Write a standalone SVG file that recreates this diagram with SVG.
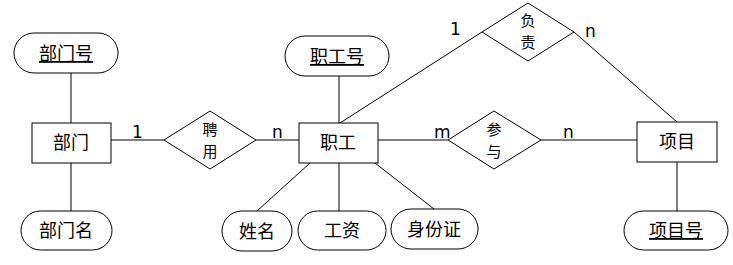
<svg xmlns="http://www.w3.org/2000/svg" width="733" height="265" viewBox="0 0 733 265">
<style>
.s{fill:#fff;stroke:#000;stroke-width:1}
.t{font-family:"Noto Sans CJK SC","Noto Sans",sans-serif;font-size:18px;text-anchor:middle;fill:#000}
.d{font-family:"Noto Sans CJK SC","Noto Sans",sans-serif;font-size:15px;text-anchor:middle;fill:#000}
.u{text-decoration:underline}
.c{font-family:"DejaVu Sans",sans-serif;font-size:17px;fill:#000}
.l{stroke:#000;stroke-width:1;fill:none}
</style>
<rect width="733" height="265" fill="#fff"/>
<g id="connectors">
<line class="l" x1="71" y1="73" x2="71" y2="123"/>
<line class="l" x1="71" y1="163" x2="71" y2="211"/>
<line class="l" x1="111" y1="140" x2="164" y2="140"/>
<line class="l" x1="256" y1="140" x2="299" y2="140"/>
<line class="l" x1="339" y1="76" x2="339" y2="123"/>
<line class="l" x1="340" y1="123" x2="482" y2="32"/>
<line class="l" x1="574" y1="32" x2="677" y2="122"/>
<line class="l" x1="378" y1="140" x2="448" y2="140"/>
<line class="l" x1="541" y1="140" x2="637" y2="140"/>
<line class="l" x1="677" y1="162" x2="677" y2="211"/>
<line class="l" x1="310" y1="163" x2="257" y2="211"/>
<line class="l" x1="339" y1="163" x2="339" y2="211"/>
<line class="l" x1="375" y1="163" x2="434" y2="209"/>
<text class="c" x="132" y="138">1</text>
<text class="c" x="272" y="138">n</text>
<text class="c" x="434" y="138">m</text>
<text class="c" x="563" y="138">n</text>
<text class="c" x="450" y="35">1</text>
<text class="c" x="585" y="37">n</text>
</g>
<g id="bumenhao"><rect class="s" x="14" y="33" width="104" height="40" rx="20"/><text class="t u" x="66" y="60">部门号</text></g>
<g id="bumen"><rect class="s" x="32" y="123" width="79" height="40"/><text class="t" x="71" y="149">部门</text></g>
<g id="bumenming"><rect class="s" x="21" y="211" width="91" height="39" rx="19.5"/><text class="t" x="66" y="237">部门名</text></g>
<g id="pinyong"><polygon class="s" points="164,140 210,111 256,140 210,169"/><text class="d" x="210" y="135">聘</text><text class="d" x="210" y="157">用</text></g>
<g id="zhigonghao"><rect class="s" x="285" y="36" width="104" height="40" rx="20"/><text class="t u" x="337" y="63">职工号</text></g>
<g id="zhigong"><rect class="s" x="299" y="123" width="79" height="40"/><text class="t" x="338" y="149">职工</text></g>
<g id="xingming"><rect class="s" x="222" y="211" width="70" height="40" rx="20"/><text class="t" x="257" y="238">姓名</text></g>
<g id="gongzi"><rect class="s" x="298" y="211" width="88" height="39" rx="19.5"/><text class="t" x="342" y="237">工资</text></g>
<g id="shenfenzheng"><rect class="s" x="391" y="209" width="87" height="40" rx="20"/><text class="t" x="434" y="236">身份证</text></g>
<g id="fuze"><polygon class="s" points="482,32 528,3 574,32 528,61"/><text class="d" x="528" y="26">负</text><text class="d" x="528" y="48">责</text></g>
<g id="canyu"><polygon class="s" points="448,140 494,111 541,140 494,169"/><text class="d" x="494" y="135">参</text><text class="d" x="494" y="157">与</text></g>
<g id="xiangmu"><rect class="s" x="637" y="122" width="80" height="40"/><text class="t" x="677" y="148">项目</text></g>
<g id="xiangmuhao"><rect class="s" x="624" y="211" width="104" height="39" rx="19.5"/><text class="t u" x="676" y="237">项目号</text></g>
</svg>
